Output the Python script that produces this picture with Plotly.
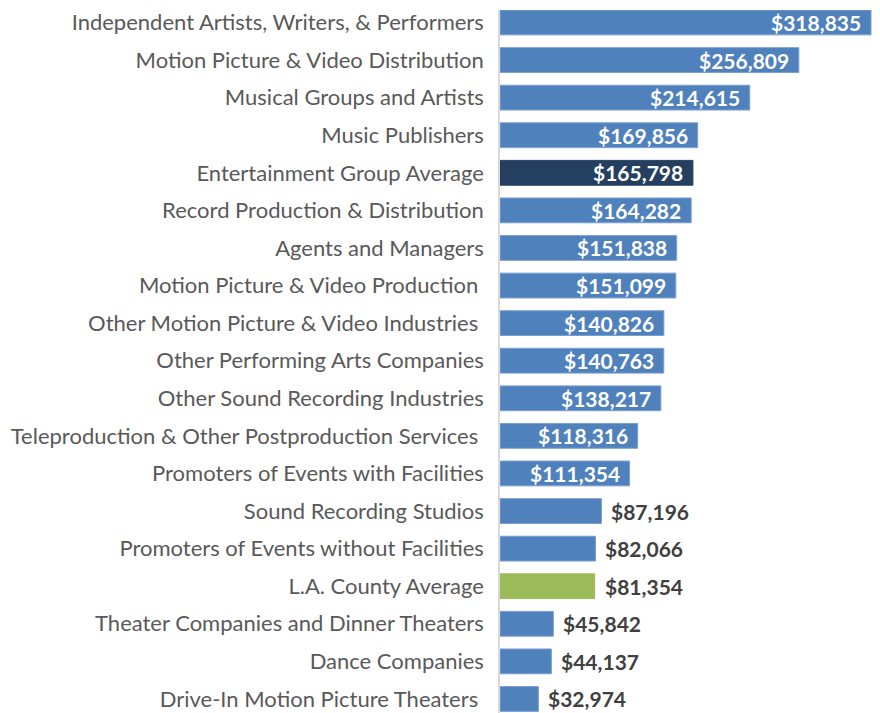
import plotly.graph_objects as go

categories = [
    "Independent Artists, Writers, & Performers",
    "Motion Picture & Video Distribution",
    "Musical Groups and Artists",
    "Music Publishers",
    "Entertainment Group Average",
    "Record Production & Distribution",
    "Agents and Managers",
    "Motion Picture & Video Production\u00a0",
    "Other Motion Picture & Video Industries\u00a0",
    "Other Performing Arts Companies",
    "Other Sound Recording Industries",
    "Teleproduction & Other Postproduction Services\u00a0",
    "Promoters of Events with Facilities",
    "Sound Recording Studios",
    "Promoters of Events without Facilities",
    "L.A. County Average",
    "Theater Companies and Dinner Theaters",
    "Dance Companies",
    "Drive-In Motion Picture Theaters\u00a0",
]
values = [318835, 256809, 214615, 169856, 165798, 164282, 151838, 151099,
          140826, 140763, 138217, 118316, 111354, 87196, 82066, 81354,
          45842, 44137, 32974]

BLUE = "#4F81BD"
NAVY = "#243F60"
GREEN = "#9BBB59"
special = {"Entertainment Group Average": NAVY, "L.A. County Average": GREEN}
colors = [special.get(c, BLUE) for c in categories]
line_colors = ["#7A9FCF" if col == BLUE else col for col in colors]

fig = go.Figure(go.Bar(
    x=values, y=categories, orientation="h",
    marker=dict(color=colors, line=dict(color=line_colors, width=1)),
    hoverinfo="skip",
))

annotations = []
for c, v in zip(categories, values):
    label = f"${v:,}"
    inside = v >= 100000
    annotations.append(dict(
        x=v, y=c, xref="x", yref="y", text=f"<b>{label}</b>", showarrow=False,
        xanchor="right" if inside else "left", xshift=-8 if inside else 8,
        font=dict(family="Lato, sans-serif", size=21,
                  color="#FFFFFF" if inside else "#404040"),
    ))

ROW = 37.69
PLOT_H = 705
x_max = 380 / 371 * max(values)
fig.update_layout(
    width=872, height=705,
    margin=dict(l=492, r=0, t=0, b=0),
    paper_bgcolor="white", plot_bgcolor="white",
    bargap=0.34,
    showlegend=False,
    annotations=annotations,
    xaxis=dict(range=[0, x_max], visible=False, fixedrange=True),
    yaxis=dict(
        type="category", range=[(PLOT_H - 12.5) / ROW, -12.5 / ROW], showgrid=False,
        showline=True, linecolor="#D9D9D9", linewidth=1.5,
        ticks="", ticklabelstandoff=10,
        tickfont=dict(family="Lato, sans-serif", size=22, color="#595959"),
        zeroline=False,
    ),
)

fig.write_html("out.html")
